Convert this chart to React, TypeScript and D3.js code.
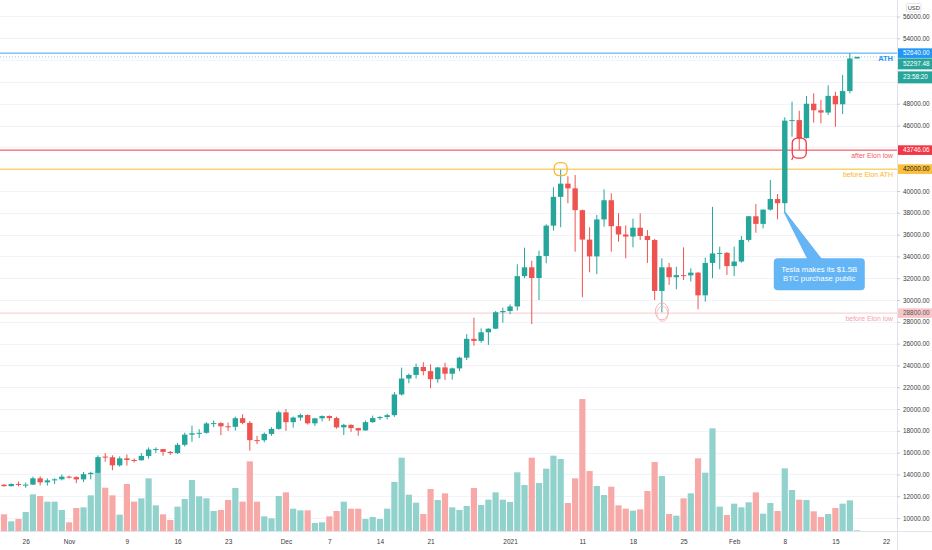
import React, { useEffect, useRef } from 'react';
import * as d3 from 'd3';

// Daily BTCUSD candles, 2020-10-23 .. 2021-02-18
const firstDay = '2020-10-23';
const lastDay = '2021-02-18';

const opens = [
  13060, 12930, 13130, 13040, 13070, 13650, 13280, 13460, 13560, 13800,
  13760, 13550, 14030, 14150, 15640, 15580, 14840, 15480, 15330, 15300,
  15700, 16290, 16330, 16070, 15960, 16720, 17650, 17780, 17820, 18680,
  18710, 18420, 18370, 19160, 18730, 17150, 17140, 17720, 18180, 19700,
  18800, 19220, 19450, 18690, 19150, 19360, 19170, 18320, 18550, 18250,
  18040, 18800, 19170, 19270, 19440, 21340, 22800, 23130, 23860, 23480,
  22740, 23820, 23240, 23730, 24710, 26440, 26250, 27040, 27370, 28880,
  28990, 29410, 32190, 33000, 32020, 34040, 36820, 39460, 40670, 40240,
  38240, 35540, 34000, 37390, 39150, 36770, 36010, 35820, 36630, 35870,
  35500, 30830, 33000, 32090, 32280, 32260, 32510, 30430, 33400, 34270,
  34320, 33110, 33530, 35510, 37680, 36980, 38290, 39260, 38880, 46450,
  46500, 44850, 48000, 47400, 47190, 48720, 47950, 49160, 52150,
];
const highs = [
  13100, 13180, 13350, 13250, 13800, 13840, 13640, 13650, 14000, 13900,
  13830, 14230, 14250, 15750, 15960, 15760, 15650, 15840, 15470, 15960,
  16480, 16480, 16350, 16150, 16900, 17830, 18480, 18150, 18800, 18950,
  18790, 18760, 19300, 19520, 18900, 17540, 17850, 18330, 19850, 20010,
  19310, 19580, 19520, 19180, 19420, 19420, 19300, 18640, 18600, 18290,
  18950, 19400, 19350, 19570, 21560, 23800, 23260, 24170, 24300, 24100,
  23850, 24250, 23800, 24790, 26870, 28380, 27400, 27400, 28990, 29300,
  29600, 33280, 34800, 33600, 34520, 36940, 40340, 41950, 41350, 41460,
  38300, 36670, 37800, 40150, 39790, 37950, 36850, 37460, 37950, 36420,
  35600, 33830, 33400, 33050, 34830, 32910, 32560, 33880, 38540, 34890,
  34400, 34890, 35870, 37700, 38800, 38300, 41010, 39720, 46760, 48190,
  47360, 48710, 48960, 48340, 49690, 49100, 50630, 52640, 52300,
];
const lows = [
  12880, 12900, 12900, 12780, 13050, 13000, 12980, 13120, 13460, 13630,
  13200, 13300, 13550, 14100, 15170, 14390, 14710, 14810, 15100, 15280,
  15450, 15960, 15720, 15800, 15880, 16560, 17000, 17340, 17740, 18350,
  17600, 18000, 18030, 18600, 16180, 16790, 16950, 17550, 18100, 18000,
  18290, 18930, 18580, 18450, 18860, 18900, 18200, 17620, 17910, 17560,
  18020, 18730, 19000, 19050, 19290, 21230, 22360, 22800, 23090, 21900,
  22420, 22670, 22700, 23470, 24500, 25810, 26080, 25880, 27330, 27920,
  28700, 29030, 32000, 27800, 30000, 33370, 36360, 36670, 38870, 34430,
  30250, 32540, 32380, 36720, 34430, 35350, 33830, 34830, 35500, 33400,
  30000, 28870, 31380, 30980, 31840, 31700, 29150, 29850, 32000, 32820,
  32300, 32200, 33420, 35350, 36170, 36580, 38200, 37400, 38040, 44980,
  43746, 44800, 46260, 46200, 46970, 45890, 47060, 48960, 52140,
];
const closes = [
  12930, 13130, 13040, 13070, 13650, 13280, 13460, 13560, 13800, 13760,
  13550, 14030, 14150, 15590, 15580, 14840, 15480, 15330, 15300, 15700,
  16290, 16330, 16070, 15960, 16720, 17650, 17780, 17820, 18680, 18710,
  18420, 18370, 19160, 18730, 17150, 17140, 17720, 18180, 19700, 18800,
  19220, 19450, 18690, 19150, 19360, 19170, 18320, 18550, 18250, 18040,
  18800, 19170, 19270, 19440, 21340, 22800, 23130, 23860, 23480, 22740,
  23820, 23240, 23730, 24710, 26440, 26250, 27040, 27370, 28880, 28990,
  29410, 32190, 33000, 32020, 34040, 36820, 39460, 40670, 40240, 38240,
  35540, 34000, 37390, 39150, 36770, 36010, 35820, 36630, 35870, 35500,
  30830, 33000, 32090, 32280, 32260, 32510, 30430, 33400, 34270, 34320,
  33110, 33530, 35510, 37680, 36980, 38290, 39260, 38880, 46450, 46500,
  44850, 48000, 47400, 47190, 48720, 47950, 49160, 52150, 52297.48,
];
const volumes = [
  50, 29, 36, 57, 110, 105, 88, 88, 63, 26,
  69, 71, 107, 175, 130, 107, 49, 141, 88, 98,
  158, 77, 50, 33, 73, 96, 153, 104, 98, 60,
  63, 93, 129, 88, 209, 88, 44, 38, 105, 116,
  67, 62, 62, 24, 26, 44, 60, 88, 67, 67,
  36, 42, 36, 67, 147, 220, 109, 85, 51, 126,
  93, 113, 71, 63, 75, 129, 78, 94, 116, 94,
  87, 176, 138, 220, 144, 187, 226, 216, 84, 158,
  396, 180, 135, 108, 133, 77, 67, 61, 65, 120,
  207, 165, 51, 46, 98, 113, 218, 175, 308, 73,
  48, 82, 71, 86, 116, 52, 84, 60, 188, 123,
  94, 93, 59, 42, 51, 69, 82, 92, 2,
];

const priceTicks = [
  10000, 12000, 14000, 16000, 18000, 20000, 22000, 24000, 26000, 28000,
  30000, 32000, 34000, 36000, 38000, 40000, 42000, 44000, 46000, 48000,
  50000, 52000, 54000, 56000,
];
const dateTicks = [
  '2020-10-26', '2020-11-01', '2020-11-09', '2020-11-16', '2020-11-23', '2020-12-01',
  '2020-12-07', '2020-12-14', '2020-12-21', '2021-01-01', '2021-01-11', '2021-01-18',
  '2021-01-25', '2021-02-01', '2021-02-08', '2021-02-15', '2021-02-22',
];
const dateTickLabels = ['26', 'Nov', '9', '16', '23', 'Dec', '7', '14', '21', '2021', '11', '18', '25', 'Feb', '8', '15', '22'];

// Drawn horizontal levels
const levelPrices = [52640, 43746.06, 42000, 28800];
const levelNames = ['ATH', 'after Elon low', 'before Elon ATH', 'before Elon low'];
const lastPrice = 52297.48;
const countdown = '23:58:20';
const calloutLines = ['Tesla makes its $1.5B', 'BTC purchase public'];
const calloutDay = '2021-02-08';
const elonTopDay = '2021-01-08';
const elonLowDay = '2021-02-10';
const prevLowDay = '2021-01-22';

const UP = '#26a69a';
const DOWN = '#ef5350';
const UP_VOL = '#92d2cc';
const DOWN_VOL = '#f7a9a7';
const levelLine = ['#42a5f5', '#f23645', '#fbc02d', '#f8c8cc'];
const levelBox = ['#2196f3', '#f23645', '#fbbf3c', '#f8c6c9'];
const levelBoxText = ['#fff', '#fff', '#1a1a1a', '#555'];
const levelTextColor = ['#2196f3', '#f25b66', '#f9b52e', '#f4a1aa'];

const W = 932;
const H = 550;
const plotRight = 897;
const plotBottom = 531;
const FONT = '"Liberation Sans", Arial, sans-serif';

const parse = d3.utcParse('%Y-%m-%d');

const App: React.FC = () => {
  const svgRef = useRef<SVGSVGElement>(null);

  useEffect(() => {
    if (!svgRef.current) return;
    const svg = d3.select(svgRef.current);
    svg.selectAll('*').remove();

    const days = d3.utcDay.range(parse(firstDay)!, d3.utcDay.offset(parse(lastDay)!, 1));

    const x = d3.scaleUtc()
      .domain([parse('2020-10-26')!, parse('2021-02-22')!])
      .range([25.7, 886]);

    const y = d3.scaleLinear()
      .domain([10000, 54000])
      .range([518.1, 38.3]);

    const yVol = d3.scaleLinear()
      .domain([0, 400])
      .range([plotBottom, plotBottom - 133.3]);

    svg.append('rect').attr('width', W).attr('height', H).attr('fill', '#fff');

    const plot = svg.append('g');

    // grid
    plot.selectAll('.grid-y')
      .data(priceTicks)
      .enter()
      .append('line')
      .attr('x1', 0)
      .attr('x2', plotRight)
      .attr('y1', d => Math.round(y(d)) + 0.5)
      .attr('y2', d => Math.round(y(d)) + 0.5)
      .attr('stroke', '#f0f3fa')
      .attr('stroke-width', 1);

    // volume
    const volW = 6.2;
    plot.selectAll('.vol')
      .data(days)
      .enter()
      .append('rect')
      .attr('x', d => x(d) - volW / 2)
      .attr('y', (_, i) => yVol(volumes[i]))
      .attr('width', volW)
      .attr('height', (_, i) => plotBottom - yVol(volumes[i]))
      .attr('fill', (_, i) => (closes[i] >= opens[i] ? UP_VOL : DOWN_VOL));

    // level lines
    plot.selectAll('.level')
      .data(levelPrices)
      .enter()
      .append('line')
      .attr('x1', 0)
      .attr('x2', plotRight)
      .attr('y1', d => y(d))
      .attr('y2', d => y(d))
      .attr('stroke', (_, i) => levelLine[i])
      .attr('stroke-width', 1);

    // current price dotted line
    plot.append('line')
      .attr('x1', 0)
      .attr('x2', plotRight)
      .attr('y1', y(lastPrice))
      .attr('y2', y(lastPrice))
      .attr('stroke', UP)
      .attr('stroke-width', 0.7)
      .attr('stroke-opacity', 0.7)
      .attr('stroke-dasharray', '1,2');

    // candles
    const bodyW = 5.4;
    const candle = plot.selectAll('.candle')
      .data(days)
      .enter()
      .append('g');

    candle.append('line')
      .attr('x1', d => x(d))
      .attr('x2', d => x(d))
      .attr('y1', (_, i) => y(highs[i]))
      .attr('y2', (_, i) => y(lows[i]))
      .attr('stroke', (_, i) => (closes[i] >= opens[i] ? UP : DOWN))
      .attr('stroke-width', 1);

    candle.append('rect')
      .attr('x', d => x(d) - bodyW / 2)
      .attr('y', (_, i) => y(Math.max(opens[i], closes[i])))
      .attr('width', bodyW)
      .attr('height', (_, i) => Math.max(1, Math.abs(y(opens[i]) - y(closes[i]))))
      .attr('fill', (_, i) => (closes[i] >= opens[i] ? UP : DOWN));

    // level captions
    plot.selectAll('.level-text')
      .data(levelNames)
      .enter()
      .append('text')
      .attr('x', 893)
      .attr('y', (_, i) => y(levelPrices[i]) + 6.2)
      .attr('text-anchor', 'end')
      .attr('dominant-baseline', 'middle')
      .style('font-family', FONT)
      .style('font-size', (_, i) => (i === 0 ? '7.5px' : '6.9px'))
      .style('font-weight', (_, i) => (i === 0 ? 'bold' : 'normal'))
      .style('fill', (_, i) => levelTextColor[i])
      .text(d => d);

    // drawn marks
    const dTop = parse(elonTopDay)!;
    const ti = d3.utcDay.count(parse(firstDay)!, dTop);
    plot.append('rect')
      .attr('x', x(dTop) - 6.5)
      .attr('y', y(highs[ti]) - 7)
      .attr('width', 13)
      .attr('height', 13)
      .attr('rx', 5)
      .attr('fill', 'none')
      .attr('stroke', '#f7b731')
      .attr('stroke-width', 1.2);

    const dLow = parse(elonLowDay)!;
    const li = d3.utcDay.count(parse(firstDay)!, dLow);
    plot.append('rect')
      .attr('x', x(dLow) - 7)
      .attr('y', y(lows[li]) - 12)
      .attr('width', 14)
      .attr('height', 20)
      .attr('rx', 5)
      .attr('fill', 'none')
      .attr('stroke', '#f23645')
      .attr('stroke-width', 1.3);
    plot.append('path')
      .attr('d', `M${x(dLow) - 6},${y(lows[li]) + 6} L${x(dLow) - 7.5},${y(lows[li]) + 10}`)
      .attr('stroke', '#f23645')
      .attr('stroke-width', 1.2)
      .attr('fill', 'none');

    const dPrev = parse(prevLowDay)!;
    const pi = d3.utcDay.count(parse(firstDay)!, dPrev);
    plot.append('ellipse')
      .attr('cx', x(dPrev))
      .attr('cy', y(lows[pi]) - 1)
      .attr('rx', 6.5)
      .attr('ry', 8.5)
      .attr('fill', 'none')
      .attr('stroke', '#f6b2b8')
      .attr('stroke-width', 1);
    plot.append('ellipse')
      .attr('cx', x(dPrev) + 0.5)
      .attr('cy', y(lows[pi]) + 1.5)
      .attr('rx', 5.5)
      .attr('ry', 7.5)
      .attr('fill', 'none')
      .attr('stroke', '#f6b2b8')
      .attr('stroke-width', 0.8);

    // callout
    const dCall = parse(calloutDay)!;
    const ci = d3.utcDay.count(parse(firstDay)!, dCall);
    const ax = x(dCall);
    const ay = y(lows[ci]);
    const bx = ax - 11;
    const by = ay + 46;
    const bw = 91;
    const bh = 32;
    const callout = plot.append('g');
    callout.append('path')
      .attr('d', `M${ax - 0.6},${ay} L${ax + 23},${by + 1} L${ax + 37},${by + 1} L${ax + 0.6},${ay} Z`)
      .attr('fill', '#64b5f6')
      .attr('stroke', '#4aa3ec')
      .attr('stroke-width', 0.6);
    callout.append('rect')
      .attr('x', bx)
      .attr('y', by)
      .attr('width', bw)
      .attr('height', bh)
      .attr('rx', 4)
      .attr('fill', '#64b5f6');
    callout.selectAll('text')
      .data(calloutLines)
      .enter()
      .append('text')
      .attr('x', bx + bw / 2)
      .attr('y', (_, i) => by + 11.5 + i * 9)
      .attr('text-anchor', 'middle')
      .attr('dominant-baseline', 'middle')
      .style('font-family', FONT)
      .style('font-size', '7.8px')
      .style('fill', '#fff')
      .text(d => d);

    // price scale
    svg.append('rect')
      .attr('x', plotRight)
      .attr('y', 0)
      .attr('width', W - plotRight)
      .attr('height', H)
      .attr('fill', '#fff');
    svg.append('line')
      .attr('x1', plotRight + 0.5)
      .attr('x2', plotRight + 0.5)
      .attr('y1', 0)
      .attr('y2', H)
      .attr('stroke', '#e0e3eb');
    svg.append('line')
      .attr('x1', 0)
      .attr('x2', W)
      .attr('y1', plotBottom + 0.5)
      .attr('y2', plotBottom + 0.5)
      .attr('stroke', '#e0e3eb');

    // tick labels covered by the price badges are not shown
    const lastY = y(lastPrice);
    const badgeCenters = [...levelPrices.map(p => y(p)), lastY + 7, lastY + 20.5];
    const shownTicks = priceTicks.filter(t => badgeCenters.every(c => Math.abs(y(t) - c) > 8));

    const yAxis = svg.append('g')
      .attr('transform', `translate(${plotRight}, 0)`)
      .call(d3.axisRight(y).tickValues(shownTicks).tickSize(3).tickPadding(3).tickFormat(d3.format('.2f')));
    yAxis.select('.domain').remove();
    yAxis.selectAll('line').attr('stroke', '#c8cbd3');
    yAxis.selectAll('text')
      .style('font-family', FONT)
      .style('font-size', '6.4px')
      .style('fill', '#3a3a3a');

    const xAxis = svg.append('g')
      .attr('transform', `translate(0, ${plotBottom})`)
      .call(d3.axisBottom(x)
        .tickValues(dateTicks.map(d => parse(d)!))
        .tickSize(0)
        .tickPadding(8)
        .tickFormat((_, i) => dateTickLabels[i]));
    xAxis.select('.domain').remove();
    xAxis.selectAll('text')
      .style('font-family', FONT)
      .style('font-size', '6.5px')
      .style('fill', '#3a3a3a');

    // price labels on scale
    const boxes = svg.append('g');
    levelPrices.forEach((p, i) => {
      const cy = y(p);
      boxes.append('rect')
        .attr('x', plotRight + 1)
        .attr('y', cy - 4.8)
        .attr('width', W - plotRight - 1)
        .attr('height', 9.6)
        .attr('fill', levelBox[i]);
      boxes.append('text')
        .attr('x', plotRight + 6)
        .attr('y', cy)
        .attr('dominant-baseline', 'middle')
        .style('font-family', FONT)
        .style('font-size', '6.4px')
        .style('fill', levelBoxText[i])
        .text(d3.format('.2f')(p));
    });

    boxes.append('rect')
      .attr('x', plotRight + 1)
      .attr('y', lastY + 1.5)
      .attr('width', W - plotRight - 1)
      .attr('height', 11)
      .attr('fill', UP);
    boxes.append('rect')
      .attr('x', plotRight + 1)
      .attr('y', lastY + 14.5)
      .attr('width', W - plotRight - 1)
      .attr('height', 12)
      .attr('fill', UP);
    boxes.append('text')
      .attr('x', plotRight + 6)
      .attr('y', lastY + 7.2)
      .attr('dominant-baseline', 'middle')
      .style('font-family', FONT)
      .style('font-size', '6.4px')
      .style('fill', '#fff')
      .text(d3.format('.2f')(lastPrice));
    boxes.append('text')
      .attr('x', plotRight + 6)
      .attr('y', lastY + 20.8)
      .attr('dominant-baseline', 'middle')
      .style('font-family', FONT)
      .style('font-size', '6.4px')
      .style('fill', '#fff')
      .text(countdown);

    // currency badge
    boxes.append('rect')
      .attr('x', 906.5)
      .attr('y', 3.5)
      .attr('width', 14.5)
      .attr('height', 8.5)
      .attr('rx', 1.5)
      .attr('fill', '#fff')
      .attr('stroke', '#d1d4dc')
      .attr('stroke-width', 0.6);
    boxes.append('text')
      .attr('x', 913.75)
      .attr('y', 8)
      .attr('text-anchor', 'middle')
      .attr('dominant-baseline', 'middle')
      .style('font-family', FONT)
      .style('font-size', '5.8px')
      .style('fill', '#333')
      .text('USD');
  }, []);

  return (
    <div style={{ position: 'fixed', left: 0, top: 0, width: W, height: H, background: '#fff' }}>
      <svg ref={svgRef} width={W} height={H} style={{ display: 'block' }} />
    </div>
  );
};

export default App;
